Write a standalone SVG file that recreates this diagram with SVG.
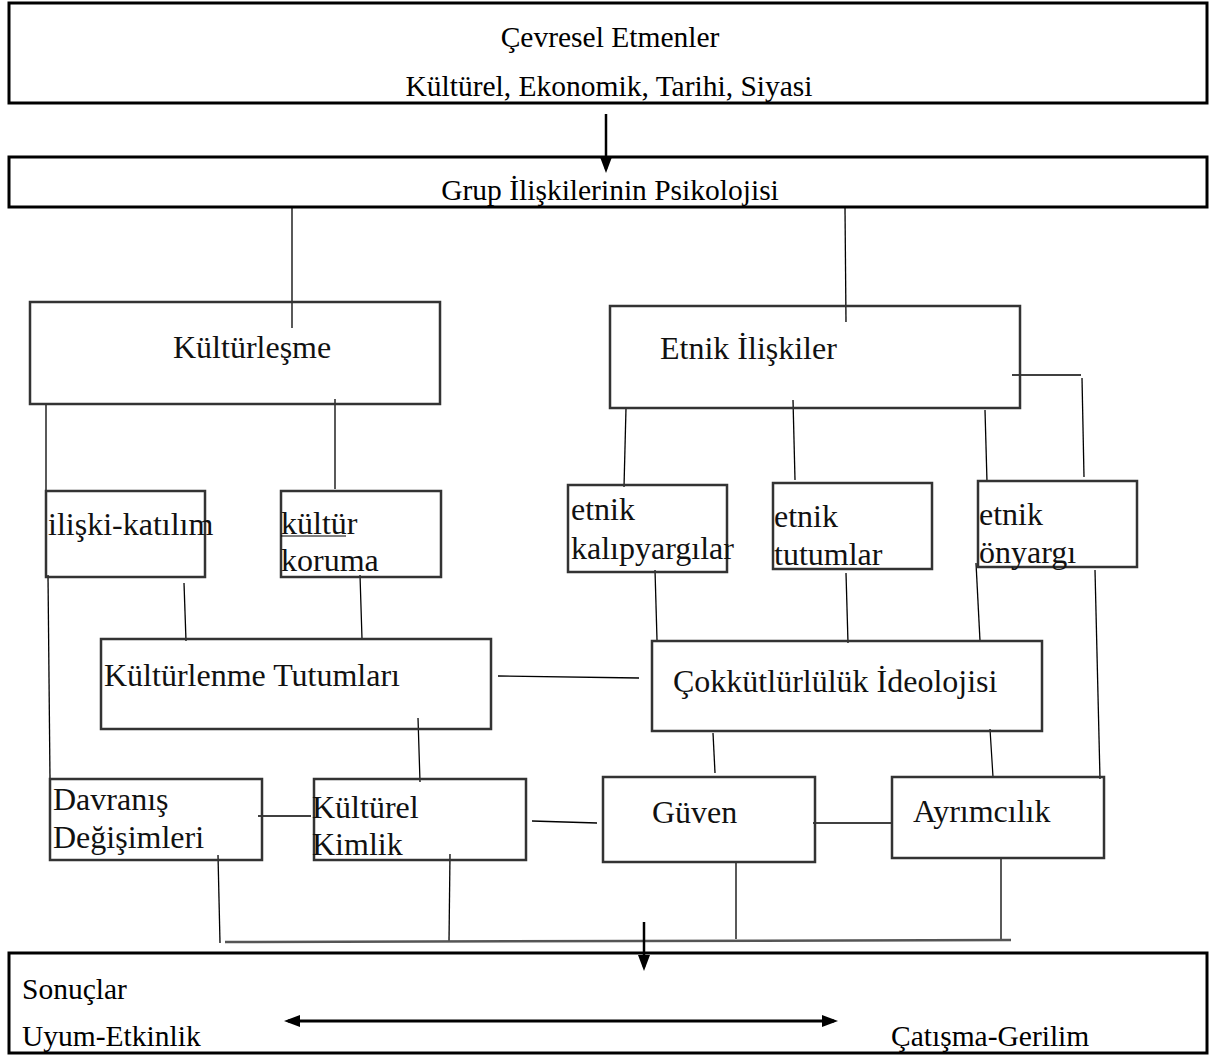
<svg xmlns="http://www.w3.org/2000/svg" width="1210" height="1056" viewBox="0 0 1210 1056">
<style>
  .outer { fill: none; stroke: #000; stroke-width: 3; }
  .box { fill: none; stroke: #333; stroke-width: 2.5; }
  .t1 { font-family: "Liberation Serif", "Times New Roman", serif; font-size: 29.5px; fill: #000; }
  .t2 { font-family: "Liberation Serif", "Times New Roman", serif; font-size: 32px; fill: #111; }
  .ln { stroke: #000; stroke-width: 1.3; fill: none; }
  .arr { stroke: #000; stroke-width: 2.5; fill: none; }
</style>
<defs>
  <marker id="ah" viewBox="0 0 16 12" refX="12" refY="6" markerWidth="16" markerHeight="12" orient="auto-start-reverse" markerUnits="userSpaceOnUse">
    <path d="M0,0 L16,6 L0,12 z" fill="#000"/>
  </marker>
</defs>
<rect width="1210" height="1056" fill="#fff"/>

<g id="connectors">
  <line class="arr" x1="606" y1="114" x2="606" y2="169" marker-end="url(#ah)"/>
  <line class="ln" x1="292" y1="208" x2="292" y2="328"/>
  <line class="ln" x1="845" y1="208" x2="846" y2="322"/>
  <line class="ln" x1="46" y1="404" x2="46" y2="491"/>
  <line class="ln" x1="48" y1="575" x2="50" y2="780"/>
  <line class="ln" x1="335" y1="399" x2="335" y2="489"/>
  <line class="ln" x1="184" y1="583" x2="186" y2="641"/>
  <line class="ln" x1="360" y1="575" x2="362" y2="639"/>
  <line class="ln" x1="498" y1="676" x2="639" y2="678"/>
  <path class="ln" d="M1012,375 L1081,375"/>
  <line class="ln" x1="1082" y1="378" x2="1084" y2="477"/>
  <line class="ln" x1="626" y1="408" x2="624" y2="487"/>
  <line class="ln" x1="793" y1="400" x2="795" y2="480"/>
  <line class="ln" x1="985" y1="410" x2="987" y2="482"/>
  <line class="ln" x1="655" y1="570" x2="657" y2="640"/>
  <line class="ln" x1="846" y1="573" x2="848" y2="643"/>
  <line class="ln" x1="976" y1="563" x2="980" y2="641"/>
  <line class="ln" x1="1095" y1="570" x2="1100" y2="779"/>
  <line class="ln" x1="418" y1="718" x2="420" y2="782"/>
  <line class="ln" x1="258" y1="816" x2="311" y2="816"/>
  <line class="ln" x1="532" y1="821" x2="597" y2="823"/>
  <line class="ln" x1="713" y1="733" x2="715" y2="773"/>
  <line class="ln" x1="990" y1="729" x2="993" y2="777"/>
  <line class="ln" x1="813" y1="823" x2="892" y2="823"/>
  <line class="ln" x1="218" y1="855" x2="220" y2="943"/>
  <line class="ln" x1="450" y1="854" x2="449" y2="942"/>
  <line class="ln" x1="736" y1="862" x2="736" y2="939"/>
  <line class="ln" x1="1001" y1="859" x2="1001" y2="939"/>
  <line x1="225" y1="942" x2="1011" y2="940" stroke="#555" stroke-width="2.5"/>
  <line class="arr" x1="644" y1="922" x2="644" y2="967" marker-end="url(#ah)"/>
</g>

<g id="cevresel">
  <rect class="outer" x="9" y="3" width="1198" height="100"/>
  <text class="t1" x="610" y="47" text-anchor="middle">Çevresel Etmenler</text>
  <text class="t1" x="609" y="96" text-anchor="middle">Kültürel, Ekonomik, Tarihi, Siyasi</text>
</g>

<g id="grup">
  <rect class="outer" x="9" y="157" width="1198" height="50"/>
  <text class="t1" x="610" y="200" text-anchor="middle">Grup İlişkilerinin Psikolojisi</text>
</g>

<g id="kulturlesme">
  <rect class="box" x="30" y="302" width="410" height="102"/>
  <text class="t2" x="173" y="358">Kültürleşme</text>
</g>

<g id="etnik-iliskiler">
  <rect class="box" x="610" y="306" width="410" height="102"/>
  <text class="t2" x="660" y="359">Etnik İlişkiler</text>
</g>

<g id="iliski-katilim">
  <rect class="box" x="46" y="491" width="159" height="86"/>
  <text class="t2" x="48" y="535">ilişki-katılım</text>
</g>

<g id="kultur-koruma">
  <rect class="box" x="281" y="491" width="160" height="86"/>
  <text class="t2" x="281" y="534">kültür</text>
  <text class="t2" x="281" y="571">koruma</text>
  <line x1="281" y1="536" x2="346" y2="536" stroke="#000" stroke-width="1.2"/>
</g>

<g id="etnik-kalipyargilar">
  <rect class="box" x="568" y="485" width="159" height="87"/>
  <text class="t2" x="571" y="520">etnik</text>
  <text class="t2" x="571" y="559">kalıpyargılar</text>
</g>

<g id="etnik-tutumlar">
  <rect class="box" x="773" y="483" width="159" height="86"/>
  <text class="t2" x="774" y="527">etnik</text>
  <text class="t2" x="774" y="565">tutumlar</text>
</g>

<g id="etnik-onyargi">
  <rect class="box" x="978" y="481" width="159" height="86"/>
  <text class="t2" x="979" y="525">etnik</text>
  <text class="t2" x="979" y="563">önyargı</text>
</g>

<g id="kulturlenme-tutumlari">
  <rect class="box" x="101" y="639" width="390" height="90"/>
  <text class="t2" x="104" y="686">Kültürlenme Tutumları</text>
</g>

<g id="cokkulturluluk">
  <rect class="box" x="652" y="641" width="390" height="90"/>
  <text class="t2" x="673" y="692">Çokkütlürlülük İdeolojisi</text>
</g>

<g id="davranis">
  <rect class="box" x="50" y="779" width="212" height="81"/>
  <text class="t2" x="53" y="810">Davranış</text>
  <text class="t2" x="53" y="848">Değişimleri</text>
</g>

<g id="kulturel-kimlik">
  <rect class="box" x="314" y="779" width="212" height="81"/>
  <text class="t2" x="312" y="818">Kültürel</text>
  <text class="t2" x="312" y="855">Kimlik</text>
</g>

<g id="guven">
  <rect class="box" x="603" y="777" width="212" height="85"/>
  <text class="t2" x="652" y="823">Güven</text>
</g>

<g id="ayrimcilik">
  <rect class="box" x="892" y="777" width="212" height="81"/>
  <text class="t2" x="913" y="822">Ayrımcılık</text>
</g>

<g id="sonuclar">
  <rect class="outer" x="9" y="953" width="1198" height="100"/>
  <text class="t1" x="22" y="999">Sonuçlar</text>
  <text class="t1" x="22" y="1046">Uyum-Etkinlik</text>
  <text class="t1" x="891" y="1046">Çatışma-Gerilim</text>
  <line x1="288" y1="1021" x2="834" y2="1021" stroke="#000" stroke-width="3" marker-start="url(#ah)" marker-end="url(#ah)"/>
</g>
</svg>
